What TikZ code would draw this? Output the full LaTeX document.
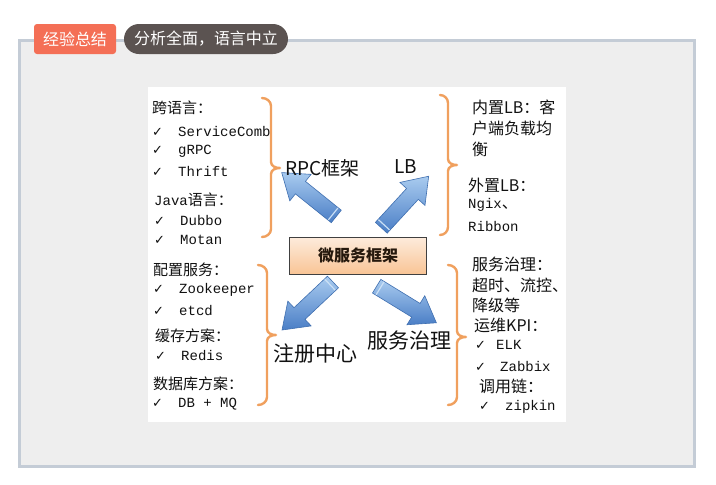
\documentclass[tikz,border=0pt]{standalone}
\usepackage{fontspec}
\setmainfont{Noto Sans CJK SC}
\newfontfamily\lmono{Liberation Mono}
\newfontfamily\djv{DejaVu Sans}
\definecolor{framefill}{HTML}{EEEEEE}
\definecolor{frameline}{HTML}{C4CCD6}
\definecolor{tagorange}{HTML}{F46F56}
\definecolor{tagdark}{HTML}{5B5351}
\definecolor{bracec}{HTML}{F0A05E}
\definecolor{arrowlight}{HTML}{A9CBEF}
\definecolor{arrowdark}{HTML}{4A7EC6}
\definecolor{arrowedge}{HTML}{3F6FB0}
\definecolor{boxtop}{HTML}{FDEBDC}
\definecolor{boxbot}{HTML}{F9C596}
\definecolor{ink}{HTML}{111111}
\newcommand\ckm{\makebox[26pt][l]{\djv\fontsize{13}{15}\selectfont ✓}}
\tikzset{
  txtl/.style={anchor=west, inner sep=0pt, text=ink, font=\fontsize{15}{18}\selectfont},
  txtr/.style={anchor=west, inner sep=0pt, text=ink, font=\fontsize{16}{19}\selectfont},
  monol/.style={anchor=west, inner sep=0pt, text=ink, font=\lmono\fontsize{14}{16}\selectfont},
  bigl/.style={anchor=west, inner sep=0pt, text=ink, font=\fontsize{19}{22}\selectfont},
  brc/.style={draw=bracec, line width=2.4pt, line cap=round, line join=round},
  pics/barrow/.style={code={
    \shadedraw[top color=arrowlight, bottom color=arrowdark, draw=arrowedge, line width=0.6pt]
      (-35,-8) -- (11,-8) -- (11,-17) -- (35,0) -- (11,17) -- (11,8) -- (-35,8) -- cycle;
    \draw[arrowlight!60!white, line width=1.2pt] (-31,-7.5) -- (-31,7.5);
  }}
}
\begin{document}
\begin{tikzpicture}[x=1pt,y=-1pt]
\useasboundingbox (0,0) rectangle (716,485);
\fill[white] (0,0) rectangle (716,485);
% outer frame
\draw[fill=framefill, draw=frameline, line width=3pt] (19,40) rectangle (694,466);
% tags
\node[fill=tagorange, rounded corners=3pt, minimum width=82pt, minimum height=30pt, inner sep=0pt,
      text=white, font=\fontsize{16}{19}\selectfont] (tag1) at (75,39) {经验总结};
\node[fill=tagdark, rounded corners=15pt, minimum width=164pt, minimum height=30pt, inner sep=0pt,
      text=white, font=\fontsize{16}{19}\selectfont] (tag2) at (206,39) {分析全面，语言中立};
% white panel
\fill[white] (148,87) rectangle (566,422);
% center box
\node[draw=black!75, line width=0.8pt, top color=boxtop, bottom color=boxbot,
      minimum width=137pt, minimum height=37pt, inner sep=0pt,
      text=black!80!brown, font=\bfseries\fontsize{16}{19}\selectfont] (core) at (358,255.5) {微服务框架};
% arrows
\pic[rotate=141.2] (a1) at (309,194.5) {barrow};
\pic[rotate=47.4] (a2) at (405,202) {barrow};
\pic[rotate=223.3] (a3) at (307.5,306) {barrow};
\pic[rotate=-31.5] (a4) at (406.5,304.5) {barrow};
% labels
\node[bigl] (rpc) at (285,168) {RPC框架};
\node[bigl] (lb) at (394,167) {LB};
\node[bigl, font=\fontsize{21}{24}\selectfont] (reg) at (273,354) {注册中心};
\node[bigl, font=\fontsize{21}{24}\selectfont] (gov) at (367,341) {服务治理};
% braces
\draw[brc] (262,98) to[out=0,in=90] (271,106) -- (271,162) to[out=-90,in=180] (280,168)
           (280,168) to[out=180,in=90] (271,174) -- (271,229) to[out=-90,in=0] (262,237);
\draw[brc] (440,95) to[out=0,in=90] (448,103) -- (448,159) to[out=-90,in=180] (457,165)
           (457,165) to[out=180,in=90] (448,171) -- (448,227) to[out=-90,in=0] (440,235);
\draw[brc] (258,265) to[out=0,in=90] (267,273) -- (267,329) to[out=-90,in=180] (276,335)
           (276,335) to[out=180,in=90] (267,341) -- (267,397) to[out=-90,in=0] (258,405);
\draw[brc] (448,265) to[out=0,in=90] (457,273) -- (457,331) to[out=-90,in=180] (466,337)
           (466,337) to[out=180,in=90] (457,343) -- (457,397) to[out=-90,in=0] (448,405);
% left top
\node[txtl] (t1) at (152,108) {跨语言：};
\node[monol] (t2) at (152,131) {\ckm ServiceComb};
\node[monol] (t3) at (152,151) {\ckm gRPC};
\node[monol] (t4) at (152,171) {\ckm Thrift};
\node[txtl] (t5) at (154,200) {{\lmono\fontsize{14}{16}\selectfont Java}语言：};
\node[monol] (t6) at (154,220) {\ckm Dubbo};
\node[monol] (t7) at (154,240) {\ckm Motan};
% left bottom
\node[txtl] (b1) at (153,270) {配置服务：};
\node[monol] (b2) at (153,290) {\ckm Zookeeper};
\node[monol] (b3) at (153,311) {\ckm etcd};
\node[txtl] (b4) at (155,336) {缓存方案：};
\node[monol] (b5) at (155,356) {\ckm Redis};
\node[txtl] (b6) at (153,384) {数据库方案：};
\node[monol] (b7) at (152,404) {\ckm DB + MQ};
% right top
\node[txtr] (r1) at (472,107) {内置LB：客};
\node[txtr] (r2) at (472,128) {户端负载均};
\node[txtr] (r3) at (472,149) {衡};
\node[txtr] (r4) at (468,185) {外置LB：};
\node[monol] (r5) at (468,205) {Ngix{\fontsize{16}{19}\selectfont\rmfamily 、}};
\node[monol] (r6) at (468,226) {Ribbon};
% right bottom
\node[txtr] (s1) at (472,264) {服务治理：};
\node[txtr] (s2) at (472,285) {超时、流控、};
\node[txtr] (s3) at (472,305) {降级等};
\node[txtr] (s4) at (474,325) {运维KPI：};
\node[monol] (s5) at (475,345) {\makebox[21pt][l]{\djv\fontsize{13}{15}\selectfont ✓}ELK};
\node[monol] (s6) at (475,366) {\makebox[25pt][l]{\djv\fontsize{13}{15}\selectfont ✓}Zabbix};
\node[txtr] (s7) at (479,386) {调用链：};
\node[monol] (s8) at (479,407) {\ckm zipkin};
\end{tikzpicture}
\end{document}
